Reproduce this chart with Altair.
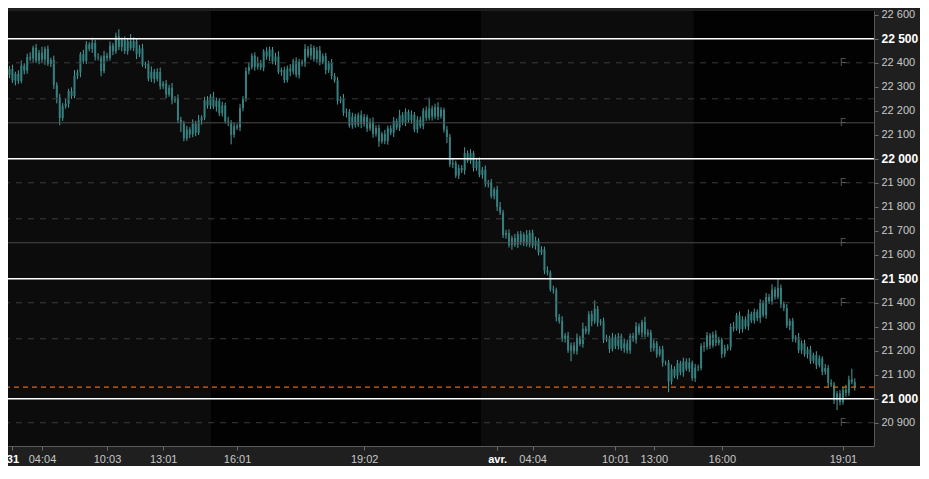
import altair as alt
import pandas as pd

# ---------------- data ----------------
first_open = 22350
closes = [
    22374, 22326, 22354, 22324, 22388, 22368, 22424, 22418, 22463, 22409,
    22442, 22414, 22458, 22396, 22412, 22308, 22256, 22170, 22219, 22229,
    22282, 22262, 22346, 22360, 22436, 22408, 22476, 22458, 22483, 22425,
    22422, 22366, 22430, 22420, 22472, 22448, 22512, 22466, 22495, 22449,
    22490, 22462, 22490, 22436, 22460, 22392, 22396, 22334, 22363, 22333,
    22362, 22302, 22314, 22268, 22296, 22244, 22252, 22162, 22147, 22085,
    22122, 22102, 22146, 22108, 22160, 22172, 22244, 22222, 22259, 22217,
    22242, 22190, 22222, 22156, 22152, 22100, 22136, 22130, 22211, 22249,
    22366, 22382, 22430, 22384, 22400, 22380, 22448, 22426, 22455, 22405,
    22426, 22362, 22370, 22328, 22376, 22364, 22408, 22350, 22403, 22397,
    22458, 22430, 22462, 22416, 22452, 22404, 22428, 22370, 22399, 22345,
    22326, 22242, 22250, 22192, 22196, 22140, 22176, 22142, 22183, 22145,
    22174, 22126, 22154, 22104, 22128, 22072, 22104, 22074, 22127, 22109,
    22158, 22130, 22182, 22152, 22196, 22160, 22184, 22122, 22163, 22137,
    22202, 22170, 22210, 22176, 22216, 22176, 22204, 22122, 22091, 21977,
    21982, 21930, 21962, 21952, 22024, 21992, 22024, 21962, 21991, 21933,
    21954, 21894, 21902, 21844, 21872, 21800, 21776, 21682, 21691, 21641,
    21670, 21642, 21686, 21652, 21684, 21644, 21692, 21638, 21659, 21609,
    21622, 21534, 21526, 21456, 21452, 21340, 21324, 21250, 21263, 21201,
    21222, 21198, 21254, 21228, 21292, 21280, 21352, 21322, 21375, 21317,
    21322, 21246, 21254, 21208, 21256, 21220, 21260, 21210, 21231, 21201,
    21262, 21246, 21302, 21276, 21320, 21268, 21276, 21210, 21231, 21185,
    21206, 21150, 21150, 21072, 21124, 21096, 21148, 21110, 21155, 21125,
    21150, 21086, 21130, 21128, 21220, 21216, 21264, 21222, 21267, 21233,
    21246, 21186, 21210, 21216, 21300, 21292, 21348, 21290, 21331, 21301,
    21354, 21326, 21362, 21336, 21400, 21348, 21424, 21406, 21455, 21425,
    21462, 21394, 21378, 21304, 21324, 21248, 21256, 21202, 21231, 21185,
    21206, 21158, 21182, 21140, 21168, 21112, 21128, 21066, 21059, 20993,
    21022, 20986, 21038, 21024, 21080, 21070, 21048,
]
wick_up = [
    12, 18, 9, 15, 22, 10, 14, 20, 8, 16, 12, 25, 10, 14, 9, 18, 11, 15, 13, 20,
    10, 16, 24, 12, 9, 18, 14, 10, 22, 13, 15, 9, 20, 12, 17, 11, 14, 28, 10, 15,
    12, 30, 16, 10, 14, 19, 9, 13, 22, 11, 15, 18, 10, 14, 12, 20, 9, 16, 13, 11,
    15, 10, 18, 12, 22, 9, 14, 17, 11, 20, 13, 10, 16, 12, 19, 9, 14, 11, 18, 12,
    15, 20, 10, 14, 25, 12, 9, 17, 13, 11, 16, 22, 10, 14, 12, 18, 9, 15, 13, 11,
    20, 12, 16, 10, 14, 18, 11, 13, 9, 17, 12, 15, 10, 20, 14, 11, 16, 12, 9, 18,
    13, 10, 15, 19, 12, 14, 9, 17, 11, 13, 16, 10, 22, 12, 14, 9, 18, 11, 15, 13,
    10, 16, 45, 12, 14, 20, 11, 9, 15, 13, 18, 10, 14, 12, 24, 11, 16, 9, 13, 15,
    12, 18, 10, 14, 9, 16, 20, 11, 13, 15, 10, 17, 12, 14, 9, 19, 11, 13, 16, 10,
    14, 12, 18, 9, 15, 11, 13, 20, 10, 16, 12, 14, 18, 9, 25, 11, 13, 15, 35, 12,
    10, 16, 13, 9, 18, 12, 14, 11, 20, 15, 10, 13, 17, 12, 9, 22, 14, 11, 16, 10,
    13, 15, 9, 12, 18, 11, 14, 10, 16, 13, 20, 9, 15, 12, 11, 17, 14, 10, 13, 18,
    12, 9, 15, 11, 14, 20, 10, 16, 13, 12, 18, 9, 14, 11, 15, 10, 17, 13, 22, 12,
    40, 14, 11, 16, 10, 13, 9, 18, 12, 15, 11, 14, 10, 16, 13, 9, 17, 12, 15, 11,
    10, 14, 12, 20, 16, 45, 15,
]
wick_dn = [
    14, 10, 20, 12, 9, 16, 13, 11, 18, 10, 15, 12, 22, 9, 14, 17, 25, 30, 12, 10,
    16, 12, 9, 14, 20, 11, 13, 10, 17, 15, 12, 22, 9, 14, 11, 16, 10, 13, 18, 12,
    15, 10, 13, 20, 12, 9, 16, 11, 14, 18, 10, 13, 12, 15, 9, 17, 11, 14, 35, 12,
    10, 16, 12, 14, 9, 18, 11, 13, 15, 10, 20, 12, 14, 9, 16, 40, 12, 10, 15, 13,
    11, 14, 9, 17, 12, 10, 15, 13, 18, 11, 14, 9, 16, 12, 10, 20, 13, 11, 15, 12,
    14, 9, 17, 11, 13, 15, 10, 18, 12, 14, 9, 16, 11, 13, 20, 10, 15, 12, 9, 17,
    11, 14, 10, 16, 12, 22, 9, 13, 15, 11, 18, 10, 14, 12, 16, 9, 13, 11, 15, 10,
    14, 12, 10, 17, 11, 15, 9, 13, 25, 12, 16, 10, 14, 11, 18, 9, 13, 15, 12, 10,
    16, 11, 14, 9, 13, 18, 10, 12, 15, 11, 20, 9, 14, 12, 16, 10, 13, 11, 17, 12,
    10, 15, 12, 9, 14, 18, 11, 13, 16, 10, 45, 12, 14, 9, 15, 11, 13, 20, 10, 16,
    12, 14, 9, 17, 11, 13, 15, 10, 18, 12, 14, 9, 16, 11, 20, 13, 10, 15, 12, 14,
    9, 16, 11, 45, 13, 10, 15, 12, 18, 9, 14, 11, 16, 13, 10, 20, 12, 15, 9, 14,
    11, 17, 13, 10, 15, 12, 9, 18, 14, 11, 16, 10, 13, 12, 20, 9, 15, 11, 14, 12,
    10, 16, 13, 9, 18, 11, 14, 12, 15, 10, 17, 13, 11, 16, 9, 14, 12, 20, 10, 15,
    40, 13, 11, 16, 12, 10, 14,
]

tick_idx = [1, 11, 33, 52, 77, 120, 165, 177, 205, 218, 241, 282]
tick_lab = ["31", "04:04", "10:03", "13:01", "16:01", "19:02",
            "avr.", "04:04", "10:01", "13:00", "16:00", "19:01"]
bold_idx = [1, 165]

session_start = [-0.5, 159.5]
session_end = [68.2, 231.5]

major_levels = [22500, 22000, 21500, 21000]
solid_levels = [22150, 21650]
dashed_levels = [22400, 22250, 21900, 21750, 21400, 21250, 20900]
f_levels = [22400, 22150, 21900, 21650, 21400, 20900]
f_idx = 282
last_price = [21048]
y_ticks = list(range(20900, 22700, 100))

# ---------------- tables ----------------
opens = [first_open] + closes[:-1]
bars = pd.DataFrame({
    "i": list(range(len(closes))),
    "open": opens,
    "close": closes,
})
bars["high"] = [max(o, c) + u for o, c, u in zip(opens, closes, wick_up)]
bars["low"] = [min(o, c) - d for o, c, d in zip(opens, closes, wick_dn)]

bands = pd.DataFrame({"x0": session_start, "x1": session_end})
major = pd.DataFrame({"v": major_levels})
solid = pd.DataFrame({"v": solid_levels})
dashed = pd.DataFrame({"v": dashed_levels})
flab = pd.DataFrame({"v": f_levels, "fx": [f_idx] * len(f_levels)})
lastp = pd.DataFrame({"v": last_price})

# ---------------- scales / axes ----------------
FONT = "Liberation Sans"
W, H = 866, 435
xscale = alt.Scale(domain=[-0.5, 292.5], nice=False, zero=False)
yscale = alt.Scale(domain=[20803, 22616], nice=False, zero=False)

x_expr = " : ".join(f"datum.value == {v} ? '{l}'" for v, l in zip(tick_idx, tick_lab)) + " : ''"
bold_test = " || ".join(f"datum.value == {v}" for v in bold_idx)

xaxis = alt.Axis(
    values=tick_idx, labelExpr=x_expr, title=None, grid=False,
    tickSize=4, tickColor="#6a6a6a", domainColor="#5a5a5a",
    labelPadding=3, labelFont=FONT, labelFontSize=11,
    labelColor={"condition": {"test": bold_test, "value": "#ffffff"}, "value": "#c8c8c8"},
    labelFontWeight={"condition": {"test": bold_test, "value": "bold"}, "value": "normal"},
    labelOverlap=False, labelBound=False, labelFlush=False,
)
yaxis = alt.Axis(
    orient="right", values=y_ticks, title=None, grid=False,
    labelExpr="replace(format(datum.value, ','), ',', ' ')",
    tickSize=4, tickColor="#6a6a6a", domainColor="#5a5a5a",
    labelPadding=3, labelFont=FONT,
    labelFontSize={"condition": {"test": "datum.value % 500 == 0", "value": 12}, "value": 11},
    labelColor={"condition": {"test": "datum.value % 500 == 0", "value": "#ffffff"}, "value": "#c8c8c8"},
    labelFontWeight={"condition": {"test": "datum.value % 500 == 0", "value": "bold"}, "value": "normal"},
    labelOverlap=False, labelBound=False,
)

X = lambda f: alt.X(f, type="quantitative", scale=xscale, axis=xaxis)
Y = lambda f: alt.Y(f, type="quantitative", scale=yscale, axis=yaxis)

band_layer = alt.Chart(bands).mark_rect(color="#0c0c0c").encode(
    x=X("x0"), x2="x1"
)
wicks = alt.Chart(bars).mark_rule(color="#4f9c9c", strokeWidth=1).encode(
    x=X("i"), y=Y("low"), y2="high"
)
bodies = alt.Chart(bars).mark_rule(color="#367f7f", strokeWidth=2).encode(
    x=X("i"), y=Y("open"), y2="close"
)
dashed_layer = alt.Chart(dashed).mark_rule(
    color="#3c3c3c", strokeWidth=1, strokeDash=[6, 6]
).encode(y=Y("v"))
solid_layer = alt.Chart(solid).mark_rule(color="#4a4a4a", strokeWidth=1).encode(y=Y("v"))
major_layer = alt.Chart(major).mark_rule(color="#ffffff", strokeWidth=1.5).encode(y=Y("v"))
last_layer = alt.Chart(lastp).mark_rule(
    color="#e0660f", strokeWidth=1.2, strokeDash=[5, 4]
).encode(y=Y("v"))
f_layer = alt.Chart(flab).mark_text(
    text="F", color="#5a5a5a", fontSize=10, font=FONT
).encode(x=X("fx"), y=Y("v"))

chart = alt.layer(
    band_layer, wicks, bodies, dashed_layer, solid_layer, major_layer, last_layer, f_layer
).properties(
    width=W, height=H,
    autosize=alt.AutoSizeParams(type="none"),
    padding={"left": 0, "top": 3, "right": 46, "bottom": 20},
    background="#1f1f1f",
).configure_view(
    fill="#020202", stroke=None
)

chart.save("out.html", embed_options={"renderer": "svg", "actions": False})
